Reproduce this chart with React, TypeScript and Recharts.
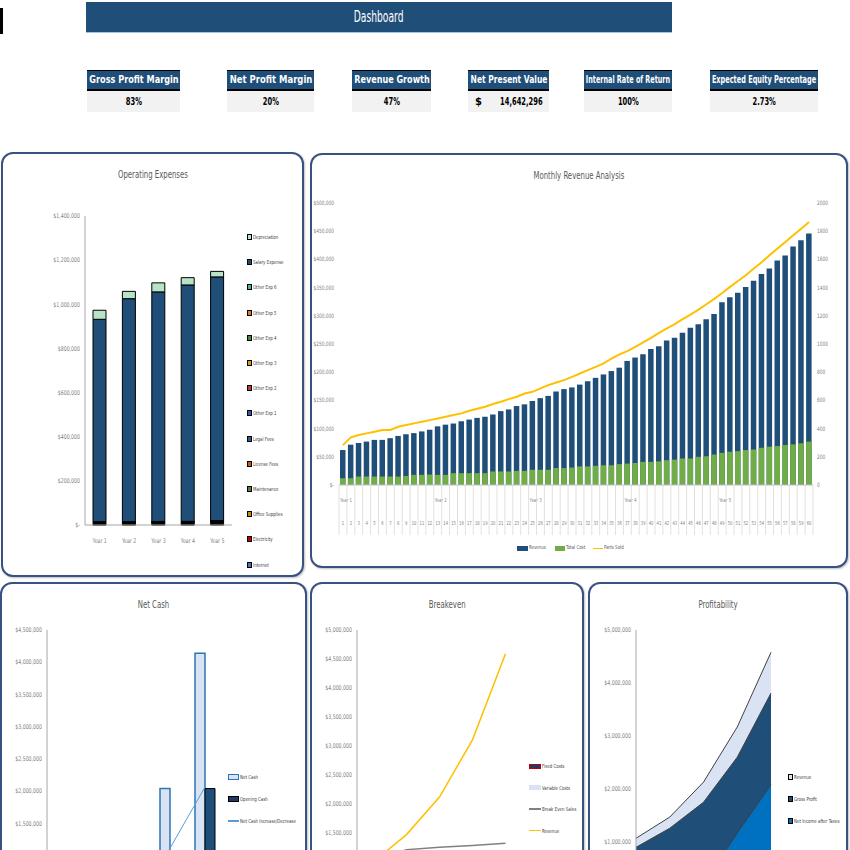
import React, { useLayoutEffect, useRef, useState } from "react";
import { BarChart, Bar, ComposedChart, Line, Area, AreaChart, XAxis, YAxis } from "recharts";

const NARROW = "'Liberation Sans Narrow', 'DejaVu Sans Condensed', 'Arial Narrow', sans-serif";
const TXT = "#7f7f7f";
const NAVY = "#1f4e79";
const BORDER = "#3a5283";

// KPI strip
const kpiLabels = ["Gross Profit Margin", "Net Profit Margin", "Revenue Growth", "Net Present Value", "Internal Rate of Return", "Expected Equity Percentage"];
const kpiValues = ["83%", "20%", "47%", "14,642,296", "100%", "2.73%"];
const kpiLeft = [87, 227, 352, 468, 584, 710];
const kpiWidth = [93, 87, 79, 81, 88, 108];

// Operating expenses (yearly)
const opexYears = ["Year 1", "Year 2", "Year 3", "Year 4", "Year 5"];
const internet = [1200, 1300, 1300, 1400, 1600];
const electricity = [2400, 2500, 2600, 2700, 3400];
const officeSupplies = [1800, 1900, 2000, 2100, 2600];
const maintenance = [3000, 3100, 3200, 3300, 4000];
const licenseFees = [1500, 1500, 1600, 1600, 2000];
const legalFees = [3000, 3000, 3100, 3200, 3800];
const otherExp1 = [400, 400, 400, 400, 500];
const otherExp2 = [400, 400, 400, 400, 500];
const otherExp3 = [300, 400, 400, 400, 400];
const otherExp4 = [300, 300, 400, 400, 400];
const otherExp5 = [300, 300, 300, 300, 400];
const otherExp6 = [400, 400, 400, 400, 500];
const salaryExpense = [917000, 1010000, 1040000, 1071000, 1104000];
const depreciation = [41000, 33000, 41000, 33000, 25000];

// stacking order, bottom first
const opexSeries = [
  { key: "internet", name: "Internet", color: "#4472c4", values: internet },
  { key: "electricity", name: "Electricity", color: "#c00000", values: electricity },
  { key: "officeSupplies", name: "Office Supplies", color: "#bf9000", values: officeSupplies },
  { key: "maintenance", name: "Maintenance", color: "#548235", values: maintenance },
  { key: "licenseFees", name: "License Fees", color: "#c55a11", values: licenseFees },
  { key: "legalFees", name: "Legal Fees", color: "#255e91", values: legalFees },
  { key: "otherExp1", name: "Other Exp 1", color: "#2f5cb5", values: otherExp1 },
  { key: "otherExp2", name: "Other Exp 2", color: "#c0392b", values: otherExp2 },
  { key: "otherExp3", name: "Other Exp 3", color: "#d4a017", values: otherExp3 },
  { key: "otherExp4", name: "Other Exp 4", color: "#3a8d3a", values: otherExp4 },
  { key: "otherExp5", name: "Other Exp 5", color: "#e07b24", values: otherExp5 },
  { key: "otherExp6", name: "Other Exp 6", color: "#4fb3a4", values: otherExp6 },
  { key: "salaryExpense", name: "Salary Expense", color: NAVY, values: salaryExpense },
  { key: "depreciation", name: "Depreciation", color: "#b7e4c7", values: depreciation },
];

// Monthly revenue analysis
const monthLabels = Array.from({ length: 60 }, (_, i) => String(i + 1));
const yearNames = ["Year 1", "Year 2", "Year 3", "Year 4", "Year 5"];
const monthlyRevenue = [
  62000, 71500, 74500, 77000, 80000, 80000, 83000, 87000, 90000, 92000, 95000, 98000,
  104000, 107000, 109000, 113000, 116000, 119000, 121000, 125000, 131000, 134000, 140000, 143000,
  149000, 154000, 158000, 166000, 170000, 173000, 178000, 184000, 190000, 196000, 202000, 208000,
  220000, 226000, 232000, 241000, 246000, 256000, 261000, 270000, 279000, 285000, 294000, 303000,
  324000, 333000, 341000, 351000, 362000, 374000, 384000, 398000, 407000, 423000, 434000, 446000,
];
const monthlyTotalCost = [
  12000, 12000, 15000, 15000, 15000, 15000, 15000, 15000, 16000, 18000, 18000, 18500,
  18000, 18000, 21000, 21000, 21000, 21000, 21000, 24000, 24000, 24000, 25000, 25000,
  27000, 27000, 27000, 30000, 30000, 31000, 33000, 33000, 34000, 35000, 35000, 37000,
  38000, 39000, 41000, 41000, 42000, 44000, 45000, 47000, 47000, 50000, 51000, 54000,
  57000, 59000, 60000, 62000, 63000, 66000, 68000, 69000, 71000, 72000, 74000, 77000,
];
const monthlyPartsSold = [
  283, 338, 354, 366, 378, 390, 390, 413, 425, 437, 449, 460,
  472, 484, 496, 508, 527, 541, 555, 574, 590, 609, 626, 649,
  661, 685, 708, 727, 744, 767, 791, 815, 838, 862, 897, 926,
  949, 980, 1011, 1044, 1079, 1110, 1141, 1176, 1209, 1244, 1282, 1320,
  1362, 1405, 1447, 1488, 1535, 1580, 1629, 1677, 1724, 1771, 1818, 1866,
];

// Net cash (yearly)
const cashYears = ["Year 1", "Year 2", "Year 3", "Year 4", "Year 5"];
const netCash = [310000, 560000, 960000, 2040000, 4140000];
const openingCash = [0, 310000, 560000, 960000, 2040000];
const netCashChange = [310000, 250000, 400000, 1100000, 2050000];

// Breakeven (yearly)
const beYears = ["Year 1", "Year 2", "Year 3", "Year 4", "Year 5"];
const fixedCosts = [973000, 1059000, 1097000, 1121000, 1140000];
const variableCosts = [170000, 250000, 360000, 520000, 780000];
const breakEvenSales = [1000000, 1200000, 1240000, 1270000, 1310000];
const beRevenue = [990000, 1460000, 2110000, 3100000, 4590000];

// Profitability (yearly)
const profYears = ["Year 1", "Year 2", "Year 3", "Year 4", "Year 5"];
const profRevenue = [1070000, 1470000, 2130000, 3170000, 4580000];
const grossProfit = [900000, 1260000, 1750000, 2600000, 3810000];
const netIncome = [50000, 100000, 200000, 1170000, 2080000];

const money = (v: number) => (v === 0 ? "$-" : "$" + v.toLocaleString("en-US"));

// squeezed tick text, the source uses a condensed face
const NarrowTick = (props: any) => {
  const { x, y, payload, textAnchor, fmt, dy = "0.35em", size = 6.5 } = props;
  const label = fmt ? fmt(payload.value) : payload.value;
  return (
    <text
      x={x}
      y={y}
      dy={dy}
      textAnchor={textAnchor}
      fontSize={size}
      fill={TXT}
      fontFamily={NARROW}
      transform={`translate(${x},0) scale(0.8,1) translate(${-x},0)`}
    >
      {label}
    </text>
  );
};

const Squeeze = ({ children, sx = 0.8, origin = "left" }: { children: React.ReactNode; sx?: number; origin?: string }) => (
  <span style={{ display: "inline-block", transform: `scaleX(${sx})`, transformOrigin: origin, whiteSpace: "nowrap" }}>{children}</span>
);

// centred text squeezed to fit a given width
function FitText({ text, width }: { text: string; width: number }) {
  const ref = useRef<HTMLSpanElement>(null);
  const [s, setS] = useState(1);
  useLayoutEffect(() => {
    if (ref.current) setS(Math.min(1, width / ref.current.offsetWidth));
  }, [text, width]);
  return (
    <span
      ref={ref}
      style={{
        position: "absolute", left: "50%", top: 0, whiteSpace: "nowrap",
        transform: `translateX(-50%) scaleX(${s})`, transformOrigin: "center",
      }}
    >
      {text}
    </span>
  );
}

function Panel({ left, top, width, height, title }: { left: number; top: number; width: number; height: number; title: string }) {
  return (
    <div
      style={{
        position: "absolute", left, top, width, height, boxSizing: "border-box",
        border: `2px solid ${BORDER}`, borderRadius: 12, background: "#fff",
        boxShadow: "1px 1px 2px rgba(0,0,0,0.25)",
      }}
    >
      <div style={{ position: "absolute", top: 14, left: 0, right: 0, textAlign: "center", fontFamily: NARROW, fontSize: 11, color: "#595959" }}>
        <Squeeze sx={0.7} origin="center">{title}</Squeeze>
      </div>
    </div>
  );
}

type LegendEntry = { name: string; color: string; stroke?: string; line?: boolean };

function LegendList({ left, top, gap, items, fontSize, sw, sh }: { left: number; top: number; gap: number; items: LegendEntry[]; fontSize: number; sw: number; sh: number }) {
  return (
    <div style={{ position: "absolute", left, top, fontFamily: NARROW, fontSize, color: "#404040" }}>
      {items.map((it, i) => (
        <div key={it.name} style={{ position: "absolute", top: i * gap, left: 0, whiteSpace: "nowrap", display: "flex", alignItems: "center", height: 10 }}>
          {it.line ? (
            <span style={{ display: "inline-block", width: sw, height: 1.5, background: it.color, marginRight: 1 }} />
          ) : (
            <span style={{ display: "inline-block", width: sw, height: sh, background: it.color, border: `1px solid ${it.stroke ?? "#000"}`, boxSizing: "border-box", marginRight: 1 }} />
          )}
          <Squeeze>{it.name}</Squeeze>
        </div>
      ))}
    </div>
  );
}

const MonthTick = (props: any) => {
  const { x, y, payload, index } = props;
  const half = payload && payload.offset ? payload.offset : 3.95;
  const left = x - half;
  return (
    <g>
      <line x1={left} x2={left} y1={y} y2={y + 50} stroke="#d9d9d9" strokeWidth={0.8} />
      {index === monthLabels.length - 1 && <line x1={x + half} x2={x + half} y1={y} y2={y + 50} stroke="#d9d9d9" strokeWidth={0.8} />}
      {index % 12 === 0 && (
        <text x={left + 1} y={y + 17} fontSize={5.5} fill={TXT} fontFamily={NARROW} transform={`translate(${left + 1},0) scale(0.8,1) translate(${-left - 1},0)`}>
          {yearNames[index / 12]}
        </text>
      )}
      <text x={x} y={y + 40} fontSize={5.5} fill={TXT} fontFamily={NARROW} textAnchor="middle" transform={`translate(${x},0) scale(0.75,1) translate(${-x},0)`}>
        {payload.value}
      </text>
    </g>
  );
};

export default function App() {
  const opexData = opexYears.map((year, i) => {
    const row: Record<string, number | string> = { year };
    opexSeries.forEach((s) => (row[s.key] = s.values[i]));
    return row;
  });
  const monthlyData = monthLabels.map((month, i) => ({
    month,
    revenue: monthlyRevenue[i],
    totalCost: monthlyTotalCost[i],
    partsSold: monthlyPartsSold[i],
  }));
  const cashData = cashYears.map((year, i) => ({ year, netCash: netCash[i], openingCash: openingCash[i], change: netCashChange[i] }));
  const beData = beYears.map((year, i) => ({ year, fixed: fixedCosts[i], variable: variableCosts[i], bes: breakEvenSales[i], revenue: beRevenue[i] }));
  const profData = profYears.map((year, i) => ({ year, revenue: profRevenue[i], gross: grossProfit[i], net: netIncome[i] }));

  const yTick = <NarrowTick fmt={money} />;
  const xTick = <NarrowTick dy="0.71em" />;

  return (
    <div style={{ position: "absolute", left: 0, top: 0, width: 850, height: 850, overflow: "hidden", background: "#fff", fontFamily: NARROW }}>
      {/* title bar */}
      <div style={{ position: "absolute", left: 0, top: 8, width: 3, height: 26, background: "#000" }} />
      <div
        style={{
          position: "absolute", left: 86, top: 2, width: 586, height: 30, background: NAVY,
          borderBottom: "1px solid #9dc3e6", color: "#fff", fontSize: 15, lineHeight: "30px", textAlign: "center",
        }}
      >
        <Squeeze sx={0.68} origin="center">Dashboard</Squeeze>
      </div>

      {/* KPIs */}
      {kpiLabels.map((label, i) => (
        <div key={label} style={{ position: "absolute", left: kpiLeft[i], top: 70, width: kpiWidth[i] }}>
          <div
            style={{
              position: "relative", height: 18, background: NAVY, borderTop: "1px solid #000", borderBottom: "2px solid #000",
              color: "#fff", fontWeight: "bold", fontSize: 11, lineHeight: "18px",
            }}
          >
            <FitText text={label} width={kpiWidth[i] - 4} />
          </div>
          <div
            style={{
              height: 21, background: "#f2f2f2", color: "#000", fontWeight: "bold", fontSize: 11, lineHeight: "21px",
              textAlign: i === 3 ? "right" : "center", paddingRight: i === 3 ? 6 : 0, position: "relative",
            }}
          >
            {i === 3 && <span style={{ position: "absolute", left: 7 }}>$</span>}
            <Squeeze sx={0.68} origin={i === 3 ? "right" : "center"}>{kpiValues[i]}</Squeeze>
          </div>
        </div>
      ))}

      {/* Operating Expenses */}
      <Panel left={1} top={152} width={303} height={425} title="Operating Expenses" />
      <div style={{ position: "absolute", left: 0, top: 200 }}>
        <BarChart width={240} height={350} data={opexData} margin={{ top: 16, right: 8, left: 5, bottom: 5 }}>
          <XAxis dataKey="year" height={20} interval={0} tick={xTick} tickLine={false} tickSize={0} tickMargin={13} axisLine={{ stroke: "#a6a6a6" }} />
          <YAxis
            width={80}
            domain={[0, 1400000]}
            ticks={[0, 200000, 400000, 600000, 800000, 1000000, 1200000, 1400000]}
            tick={yTick}
            tickLine={false}
            tickSize={3}
            tickMargin={2}
            axisLine={{ stroke: "#a6a6a6" }}
          />
          {opexSeries.map((s) => (
            <Bar key={s.key} dataKey={s.key} name={s.name} stackId="opex" fill={s.color} stroke="#000" strokeWidth={1} barSize={13} isAnimationActive={false} />
          ))}
        </BarChart>
      </div>
      <LegendList
        left={247}
        top={232}
        gap={25.2}
        fontSize={5.5}
        sw={5}
        sh={6}
        items={[...opexSeries].reverse().map((s) => ({ name: s.name, color: s.color }))}
      />

      {/* Monthly Revenue Analysis */}
      <Panel left={310} top={153} width={538} height={415} title="Monthly Revenue Analysis" />
      <div style={{ position: "absolute", left: 300, top: 190 }}>
        <ComposedChart width={548} height={350} data={monthlyData} barGap={-5.5} margin={{ top: 13, right: 5, left: 12, bottom: 0 }}>
          <XAxis dataKey="month" height={55} interval={0} tickLine={false} tickSize={0} tickMargin={0} axisLine={{ stroke: "#bfbfbf" }} tick={<MonthTick />} />
          <YAxis
            yAxisId="l"
            width={27}
            domain={[0, 500000]}
            ticks={[0, 50000, 100000, 150000, 200000, 250000, 300000, 350000, 400000, 450000, 500000]}
            tick={<NarrowTick fmt={money} size={6} />}
            tickLine={false}
            tickSize={3}
            tickMargin={2}
            axisLine={false}
          />
          <YAxis
            yAxisId="r"
            orientation="right"
            width={30}
            domain={[0, 2000]}
            ticks={[0, 200, 400, 600, 800, 1000, 1200, 1400, 1600, 1800, 2000]}
            tick={<NarrowTick size={6} />}
            tickLine={false}
            tickSize={2}
            tickMargin={2}
            axisLine={false}
          />
          <Bar yAxisId="l" dataKey="revenue" name="Revenue" fill="#1f4e79" barSize={5.5} isAnimationActive={false} />
          <Bar yAxisId="l" dataKey="totalCost" name="Total Cost" fill="#70ad47" barSize={5.5} isAnimationActive={false} />
          <Line yAxisId="r" dataKey="partsSold" name="Parts Sold" type="linear" stroke="#ffc000" strokeWidth={2} dot={false} isAnimationActive={false} />
        </ComposedChart>
      </div>
      <div style={{ position: "absolute", left: 517, top: 544, width: 120, height: 8, fontSize: 5.5, color: "#595959", fontFamily: NARROW }}>
        <span style={{ position: "absolute", left: 0, top: 1.5, width: 11, height: 5, background: "#1f4e79" }} />
        <span style={{ position: "absolute", left: 12, top: 0 }}><Squeeze>Revenue</Squeeze></span>
        <span style={{ position: "absolute", left: 38, top: 1.5, width: 10, height: 5, background: "#70ad47" }} />
        <span style={{ position: "absolute", left: 49, top: 0 }}><Squeeze>Total Cost</Squeeze></span>
        <span style={{ position: "absolute", left: 76, top: 3.5, width: 10, height: 1.5, background: "#ffc000" }} />
        <span style={{ position: "absolute", left: 87, top: 0 }}><Squeeze>Parts Sold</Squeeze></span>
      </div>

      {/* Net Cash */}
      <Panel left={0} top={582} width={307} height={300} title="Net Cash" />
      <div style={{ position: "absolute", left: 0, top: 615 }}>
        <ComposedChart width={227} height={330} data={cashData} barGap={0} margin={{ top: 15, right: 5, left: 2, bottom: 0 }}>
          <XAxis dataKey="year" height={25} tick={false} tickLine={false} axisLine={{ stroke: "#a6a6a6" }} />
          <YAxis
            width={45}
            domain={[0, 4500000]}
            ticks={[0, 500000, 1000000, 1500000, 2000000, 2500000, 3000000, 3500000, 4000000, 4500000]}
            tick={yTick}
            tickLine={false}
            tickSize={3}
            tickMargin={2}
            axisLine={{ stroke: "#a6a6a6" }}
          />
          <Bar dataKey="netCash" name="Net Cash" fill="#dae3f3" stroke="#2e75b6" strokeWidth={1.5} barSize={10} isAnimationActive={false} />
          <Bar dataKey="openingCash" name="Opening Cash" fill="#1f4e79" stroke="#000" strokeWidth={1} barSize={10} isAnimationActive={false} />
          <Line dataKey="change" name="Net Cash Increase/Decrease" type="linear" stroke="#5b9bd5" strokeWidth={1} dot={false} isAnimationActive={false} />
        </ComposedChart>
      </div>
      <LegendList
        left={228}
        top={772}
        gap={22}
        fontSize={5.5}
        sw={11}
        sh={6}
        items={[
          { name: "Net Cash", color: "#dae3f3", stroke: "#2e75b6" },
          { name: "Opening Cash", color: "#1f3864", stroke: "#000" },
          { name: "Net Cash Increase/Decrease", color: "#5b9bd5", line: true },
        ]}
      />

      {/* Breakeven */}
      <Panel left={310} top={582} width={274} height={300} title="Breakeven" />
      <div style={{ position: "absolute", left: 310, top: 615 }}>
        <ComposedChart width={217} height={329} data={beData} margin={{ top: 15, right: 5, left: 2, bottom: 0 }}>
          <XAxis dataKey="year" height={25} scale="band" tick={false} tickLine={false} axisLine={{ stroke: "#a6a6a6" }} />
          <YAxis
            width={45}
            domain={[0, 5000000]}
            ticks={[0, 500000, 1000000, 1500000, 2000000, 2500000, 3000000, 3500000, 4000000, 4500000, 5000000]}
            tick={yTick}
            tickLine={false}
            tickSize={3}
            tickMargin={2}
            axisLine={{ stroke: "#a6a6a6" }}
          />
          <Area dataKey="fixed" name="Fixed Costs" type="linear" fill="#1f3864" fillOpacity={1} stroke="#c00000" isAnimationActive={false} />
          <Area dataKey="variable" name="Variable Costs" type="linear" fill="#dae3f3" fillOpacity={1} stroke="#dae3f3" isAnimationActive={false} />
          <Line dataKey="bes" name="Break Even Sales" type="linear" stroke="#808080" strokeWidth={1.5} dot={false} isAnimationActive={false} />
          <Line dataKey="revenue" name="Revenue" type="linear" stroke="#ffc000" strokeWidth={1.5} dot={false} isAnimationActive={false} />
        </ComposedChart>
      </div>
      <LegendList
        left={529}
        top={761}
        gap={21.5}
        fontSize={5.5}
        sw={12}
        sh={5}
        items={[
          { name: "Fixed Costs", color: "#1f3864", stroke: "#c00000" },
          { name: "Variable Costs", color: "#dae3f3", stroke: "#dae3f3" },
          { name: "Break Even Sales", color: "#808080", line: true },
          { name: "Revenue", color: "#ffc000", line: true },
        ]}
      />

      {/* Profitability */}
      <Panel left={588} top={582} width={260} height={300} title="Profitability" />
      <div style={{ position: "absolute", left: 588, top: 615 }}>
        <AreaChart width={188} height={305} data={profData} margin={{ top: 15, right: 5, left: 3, bottom: 0 }}>
          <XAxis dataKey="year" height={25} scale="point" tick={false} tickLine={false} axisLine={{ stroke: "#a6a6a6" }} />
          <YAxis
            width={45}
            domain={[0, 5000000]}
            ticks={[0, 1000000, 2000000, 3000000, 4000000, 5000000]}
            tick={yTick}
            tickLine={false}
            tickSize={3}
            tickMargin={2}
            axisLine={{ stroke: "#a6a6a6" }}
          />
          <Area dataKey="revenue" name="Revenue" type="linear" fill="#dae3f3" fillOpacity={1} stroke="#404040" strokeWidth={1} isAnimationActive={false} />
          <Area dataKey="gross" name="Gross Profit" type="linear" fill="#1f4e79" fillOpacity={1} stroke="#404040" strokeWidth={1} isAnimationActive={false} />
          <Area dataKey="net" name="Net Income after Taxes" type="linear" fill="#0070c0" fillOpacity={1} stroke="#404040" strokeWidth={1} isAnimationActive={false} />
        </AreaChart>
      </div>
      <LegendList
        left={788}
        top={772}
        gap={22}
        fontSize={5.5}
        sw={5}
        sh={6}
        items={[
          { name: "Revenue", color: "#dae3f3" },
          { name: "Gross Profit", color: "#1f4e79" },
          { name: "Net Income after Taxes", color: "#0070c0" },
        ]}
      />
    </div>
  );
}
